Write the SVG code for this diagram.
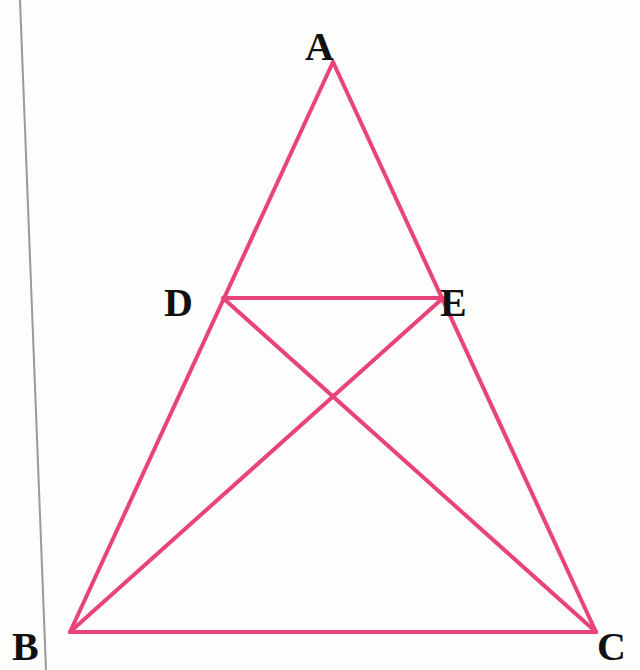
<svg xmlns="http://www.w3.org/2000/svg" width="640" height="670" viewBox="0 0 640 670">
<style>
.seg{stroke:#e8437a;stroke-width:4;stroke-linecap:round;fill:none}
.lbl{font-family:"Liberation Serif",serif;font-weight:bold;font-size:40px;fill:#111}
</style>
<rect width="640" height="670" fill="#fdfdfb"/>
<line x1="20" y1="0" x2="46" y2="670" stroke="#9a9a9a" stroke-width="2"/>
<g id="connectors">
<line class="seg" x1="333" y1="62" x2="70" y2="632"/>
<line class="seg" x1="333" y1="62" x2="596" y2="632"/>
<line class="seg" x1="70" y1="632" x2="596" y2="632"/>
<line class="seg" x1="223" y1="298" x2="443" y2="298"/>
<line class="seg" x1="70" y1="632" x2="443" y2="298"/>
<line class="seg" x1="223" y1="298" x2="596" y2="632"/>
</g>
<g id="A"><text class="lbl" x="305" y="60">A</text></g>
<g id="D"><text class="lbl" x="164" y="316">D</text></g>
<g id="E"><text class="lbl" x="440" y="316">E</text></g>
<g id="B"><text class="lbl" x="12" y="660">B</text></g>
<g id="C"><text class="lbl" x="597" y="660">C</text></g>
</svg>
